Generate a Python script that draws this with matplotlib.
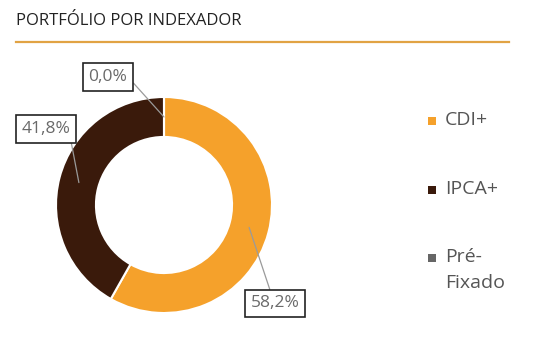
import numpy as np
import matplotlib
matplotlib.use("Agg")
import matplotlib.pyplot as plt
from matplotlib.patches import Rectangle
from matplotlib.lines import Line2D

plt.rcParams['font.family'] = ['Open Sans', 'DejaVu Sans']

title = "PORTFÓLIO POR INDEXADOR"
categories = ["CDI+", "IPCA+", "Pré-\nFixado"]
values = [58.2, 41.8, 0.0]
labels = ["58,2%", "41,8%", "0,0%"]
colors = ["#F5A12B", "#3A1A0B", "#666666"]

W, H = 540, 361
fig = plt.figure(figsize=(W / 100, H / 100), dpi=100)

# donut axes: 1 data unit = 108 px, center at (164, 205) px from top-left
cx, cy, R = 164, 205, 108
ax = fig.add_axes([0, 0, 1, 1])
ax.axis('off')

wedges, _ = ax.pie(values, colors=colors, startangle=90, counterclock=False,
                   radius=1.0, wedgeprops=dict(width=0.37, edgecolor='white', linewidth=1.5))
ax.set_xlim(-cx / R, (W - cx) / R)
ax.set_ylim(-(H - cy) / R, cy / R)
ax.set_aspect('auto')

text_pos = [(1.03, -0.912), (-1.095, 0.704), (-0.52, 1.185)]
rel_pos = [(0.43, 1.0), (1.0, 0.0), (1.0, 0.55)]
for w, lab, tp, rp in zip(wedges, labels, text_pos, rel_pos):
    ang = np.deg2rad((w.theta1 + w.theta2) / 2)
    r = 0.815
    px, py = r * np.cos(ang), r * np.sin(ang)
    ax.annotate(lab, xy=(px, py), xytext=tp, ha='center', va='center',
                fontsize=12.5, color='#6a6a6a',
                bbox=dict(boxstyle='square,pad=0.32', fc='white', ec='#222222', lw=1.2),
                arrowprops=dict(arrowstyle='-', color='#9a9a9a', lw=0.9,
                                shrinkA=0, shrinkB=0, relpos=rp))

# title and rule
fig.text(16 / W, 1 - 21 / H, title, fontsize=12, color='#222222', va='center', ha='left')
fig.add_artist(Line2D([16 / W, 509 / W], [1 - 41.7 / H, 1 - 41.7 / H],
                      color='#E1A344', lw=1.6, transform=fig.transFigure))

# legend (manual)
leg_y = [121, 190, 258]
for cat, col, y in zip(categories, colors, leg_y):
    s = 7.5
    fig.add_artist(Rectangle(((432 - s / 2) / W, 1 - (y + s / 2) / H), s / W, s / H,
                             transform=fig.transFigure, color=col, lw=0))
    fig.text(445 / W, 1 - (y - 10) / H, cat, fontsize=14, color='#555555',
             ha='left', va='top', linespacing=1.6)

fig.savefig("out.png", dpi=100)
